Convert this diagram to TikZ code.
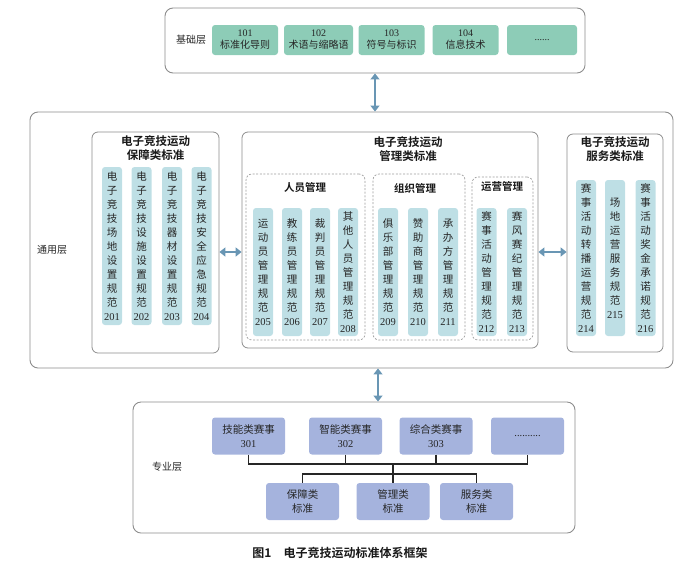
\documentclass[tikz,border=0pt]{standalone}
\usepackage{fontspec}
\setmainfont{Liberation Serif}
\newfontfamily\cjk{Noto Sans CJK SC}[BoldFont={Noto Sans CJK SC Bold}]
\usetikzlibrary{arrows.meta}
\definecolor{framegray}{RGB}{140,140,140}
\definecolor{basegreen}{RGB}{141,204,183}
\definecolor{colblue}{RGB}{190,223,229}
\definecolor{problue}{RGB}{165,179,221}
\definecolor{arrowblue}{RGB}{105,150,180}
\newcommand\idx[1]{{\rmfamily #1}}
\newcommand\vstack[1]{\vstackaux#1\relax}
\def\vstackaux#1{\ifx#1\relax\else#1\\\expandafter\vstackaux\fi}
\tikzset{
  layer/.style={draw=framegray, line width=0.9pt, rounded corners=8pt, inner sep=0pt},
  panel/.style={draw=framegray, line width=0.8pt, rounded corners=6pt, inner sep=0pt},
  group/.style={draw=framegray!85, line width=0.7pt, dash pattern=on 2pt off 1.6pt, rounded corners=6pt, inner sep=0pt},
  basebox/.style={fill=basegreen, rounded corners=3pt, minimum width=66pt, minimum height=30pt, inner sep=0pt, align=center, text=black!85, font=\cjk\fontsize{10}{12}\selectfont},
  colbox/.style={fill=colblue, rounded corners=3pt, minimum width=20pt, inner sep=0pt, align=center, text=black!85, font=\cjk\fontsize{10.5}{14}\selectfont},
  probox/.style={fill=problue, rounded corners=3pt, minimum width=73pt, minimum height=37pt, inner sep=0pt, align=center, text=black!85, font=\cjk\fontsize{10.5}{14}\selectfont},
  title/.style={align=center, text=black!90, font=\cjk\bfseries\fontsize{11.5}{14}\selectfont},
  subtitle/.style={text=black!90, font=\cjk\bfseries\fontsize{10.5}{12}\selectfont},
  tag/.style={text=black!85, font=\cjk\fontsize{10}{12}\selectfont},
  dbl/.style={{Triangle[width=9pt,length=6pt]}-{Triangle[width=9pt,length=6pt]}, draw=arrowblue, line width=1.3pt},
  link/.style={draw=black!85, line width=1.1pt}
}
\begin{document}
\begin{tikzpicture}[x=1pt,y=-1pt]
  \useasboundingbox (0,0) rectangle (700,579);
  \node[layer, minimum width=420pt, minimum height=65pt] (base) at (375,40.5) {};
  \node[tag] (baselbl) at (191,40) {基础层};
  \node[basebox] (b101) at (245,40) {\idx{101}\\标准化导则};
  \node[basebox, minimum width=69pt] (b102) at (318.5,40) {\idx{102}\\术语与缩略语};
  \node[basebox] (b103) at (391.5,40) {\idx{103}\\符号与标识};
  \node[basebox] (b104) at (465.5,40) {\idx{104}\\信息技术};
  \node[basebox, minimum width=70pt] (b105) at (542,40) {\idx{......}};

  \node[layer, minimum width=643pt, minimum height=256pt] (common) at (351.5,240) {};
  \node[tag] (commonlbl) at (52,250) {通用层};

  \node[panel, minimum width=127pt, minimum height=221pt] (pA) at (155.5,242.5) {};
  \node[title] (tA) at (155.5,148) {电子竞技运动\\保障类标准};
  \node[colbox, minimum height=158pt] (c201) at (112,246) {\vstack{电子竞技场地设置规范}\idx{201}};
  \node[colbox, minimum height=158pt] (c202) at (141.5,246) {\vstack{电子竞技设施设置规范}\idx{202}};
  \node[colbox, minimum height=158pt] (c203) at (172,246) {\vstack{电子竞技器材设置规范}\idx{203}};
  \node[colbox, minimum height=158pt] (c204) at (201.5,246) {\vstack{电子竞技安全应急规范}\idx{204}};

  \node[panel, minimum width=296pt, minimum height=216pt] (pB) at (390,240) {};
  \node[title] (tB) at (408,149) {电子竞技运动\\管理类标准};
  \node[group, minimum width=119pt, minimum height=166pt] (gB1) at (305.5,257) {};
  \node[group, minimum width=92pt, minimum height=166pt] (gB2) at (419,257) {};
  \node[group, minimum width=61pt, minimum height=163pt] (gB3) at (502.5,258.5) {};
  \node[subtitle] (sB1) at (305,188) {人员管理};
  \node[subtitle] (sB2) at (415,188) {组织管理};
  \node[subtitle] (sB3) at (502,187) {运营管理};
  \node[colbox, minimum height=128pt] (c205) at (263,272) {\vstack{运动员管理规范}\idx{205}};
  \node[colbox, minimum height=128pt] (c206) at (292,272) {\vstack{教练员管理规范}\idx{206}};
  \node[colbox, minimum height=128pt] (c207) at (320,272) {\vstack{裁判员管理规范}\idx{207}};
  \node[colbox, minimum height=128pt] (c208) at (348,272) {\vstack{其他人员管理规范}\idx{208}};
  \node[colbox, minimum height=128pt] (c209) at (388,272) {\vstack{俱乐部管理规范}\idx{209}};
  \node[colbox, minimum height=128pt] (c210) at (418,272) {\vstack{赞助商管理规范}\idx{210}};
  \node[colbox, minimum height=128pt] (c211) at (448,272) {\vstack{承办方管理规范}\idx{211}};
  \node[colbox, minimum height=128pt] (c212) at (486.5,272) {\vstack{赛事活动管理规范}\idx{212}};
  \node[colbox, minimum height=128pt] (c213) at (517,272) {\vstack{赛风赛纪管理规范}\idx{213}};

  \node[panel, minimum width=96pt, minimum height=218pt] (pC) at (615,243) {};
  \node[title] (tC) at (615,149) {电子竞技运动\\服务类标准};
  \node[colbox, minimum height=156pt] (c214) at (586,258) {\vstack{赛事活动转播运营规范}\idx{214}};
  \node[colbox, minimum height=156pt] (c215) at (615,258) {\vstack{场地运营服务规范}\idx{215}};
  \node[colbox, minimum height=156pt] (c216) at (645.5,258) {\vstack{赛事活动奖金承诺规范}\idx{216}};

  \coordinate (mid) at (0,252);
  \draw[dbl, line width=2pt] (pA.east |- mid) -- (pB.west |- mid);
  \draw[dbl, line width=2pt] (pB.east |- mid) -- (pC.west |- mid);
  \draw[dbl] (base.south) -- (base.south |- common.north);

  \node[layer, minimum width=442pt, minimum height=131pt] (prof) at (354,467.5) {};
  \node[tag] (proflbl) at (167,467) {专业层};
  \coordinate (ax) at (378,0);
  \draw[dbl] (common.south -| ax) -- (prof.north -| ax);
  \node[probox] (e301) at (248.5,436) {技能类赛事\\\idx{301}};
  \node[probox] (e302) at (345.5,436) {智能类赛事\\\idx{302}};
  \node[probox] (e303) at (436,436) {综合类赛事\\\idx{303}};
  \node[probox] (e304) at (527.5,436) {\idx{..........}};
  \node[probox] (s1) at (302.5,501.5) {保障类\\标准};
  \node[probox] (s2) at (393,501.5) {管理类\\标准};
  \node[probox] (s3) at (476.5,501.5) {服务类\\标准};
  \coordinate (busA) at (393,464);
  \coordinate (busB) at (393,474);
  \draw[link] (e301.south) |- (busA) -| (e304.south);
  \draw[link] (e302.south) -- (e302.south |- busA);
  \draw[link] (e303.south) -- (e303.south |- busA);
  \draw[link] (busA) -- (busB);
  \draw[link] (s1.north) |- (busB) -| (s3.north);
  \draw[link] (busB) -- (s2.north);

  \node[font=\cjk\bfseries\fontsize{12}{14}\selectfont, text=black!90] (cap) at (340,553) {图1\quad 电子竞技运动标准体系框架};
\end{tikzpicture}
\end{document}
